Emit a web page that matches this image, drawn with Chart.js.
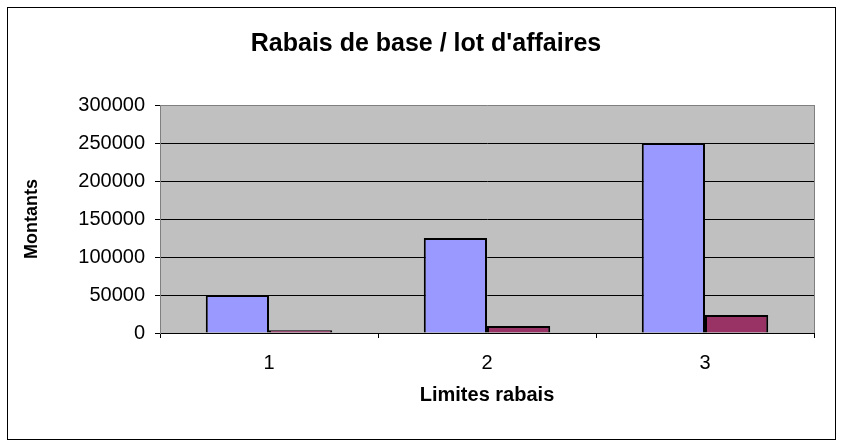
<!DOCTYPE html>
<html>
<head>
<meta charset="utf-8">
<script src="https://cdn.jsdelivr.net/npm/chart.js@4.4.1/dist/chart.umd.min.js"></script>
<style>
  html, body { margin: 0; padding: 0; background: #fff; }
  #wrap { width: 842px; height: 447px; position: relative; }
</style>
</head>
<body>
<div id="wrap"><canvas id="rabais"></canvas></div>
<script>
const chartTitle = "Rabais de base / lot d'affaires";
const categories = ['1', '2', '3'];
const serie1 = [50000, 125000, 250000];
const serie2 = [3750, 9375, 23750];
const yTicks = [0, 50000, 100000, 150000, 200000, 250000, 300000];

const fontFam = '"Liberation Sans", Arial, sans-serif';

// fond blanc, cadre extérieur, zone de traçage grise et titre centré sur le cadre
const cadre = {
    id: 'cadre',
    beforeDraw(chart) {
        const c = chart.ctx;
        const a = chart.chartArea;
        c.save();
        c.fillStyle = '#fff';
        c.fillRect(0, 0, chart.width, chart.height);
        c.strokeStyle = '#000';
        c.lineWidth = 1;
        c.strokeRect(7.5, 7.5, 828, 432);
        c.fillStyle = '#c0c0c0';
        c.fillRect(a.left, a.top, a.right - a.left, a.bottom - a.top);
        c.strokeStyle = '#808080';
        c.beginPath();
        c.moveTo(a.right + 0.5, a.top);
        c.lineTo(a.right + 0.5, a.bottom);
        c.stroke();
        c.fillStyle = '#000';
        c.font = 'bold 25px ' + fontFam;
        c.textAlign = 'center';
        c.textBaseline = 'middle';
        c.fillText(chartTitle, 426, 44);
        c.restore();
    }
};

const ctx = document.getElementById('rabais').getContext('2d');
new Chart(ctx, {
    type: 'bar',
    data: {
        labels: categories,
        datasets: [
            {
                label: 'Série1',
                data: serie1,
                backgroundColor: '#9999ff',
                borderColor: '#000',
                borderWidth: 2
            },
            {
                label: 'Série2',
                data: serie2,
                backgroundColor: '#993366',
                borderColor: '#000',
                borderWidth: 2
            }
        ]
    },
    options: {
        responsive: true,
        maintainAspectRatio: false,
        animation: false,
        devicePixelRatio: 1,
        categoryPercentage: 0.58,
        barPercentage: 1,
        layout: { padding: { left: 20, right: 28, top: 105, bottom: 36 } },
        scales: {
            x: {
                afterFit: (s) => { s.height = 78; },
                grid: {
                    offset: true,
                    drawOnChartArea: false,
                    color: '#000',
                    tickLength: 5
                },
                border: { display: true, color: '#000' },
                ticks: {
                    padding: 13,
                    color: '#000',
                    font: { family: fontFam, size: 20 }
                },
                title: {
                    display: true,
                    text: 'Limites rabais',
                    color: '#000',
                    padding: { top: 4, bottom: 4 },
                    font: { family: fontFam, size: 20, weight: 'bold' }
                }
            },
            y: {
                min: 0,
                max: 300000,
                afterFit: (s) => { s.width = 140; },
                afterBuildTicks: (s) => { s.ticks = yTicks.map(v => ({ value: v })); },
                grid: {
                    color: (c) => c.tick && c.tick.value === 300000 ? '#808080' : '#000',
                    tickColor: '#000',
                    tickLength: 5
                },
                border: { display: true, color: '#808080' },
                ticks: {
                    padding: 10,
                    color: '#000',
                    font: { family: fontFam, size: 20 },
                    callback: (v) => String(v)
                },
                title: {
                    display: true,
                    text: 'Montants',
                    color: '#000',
                    padding: { top: 1, bottom: 2 },
                    font: { family: fontFam, size: 18, weight: 'bold' }
                }
            }
        },
        plugins: {
            legend: { display: false },
            tooltip: { enabled: false },
            title: { display: false }
        }
    },
    plugins: [cadre]
});
</script>
</body>
</html>
